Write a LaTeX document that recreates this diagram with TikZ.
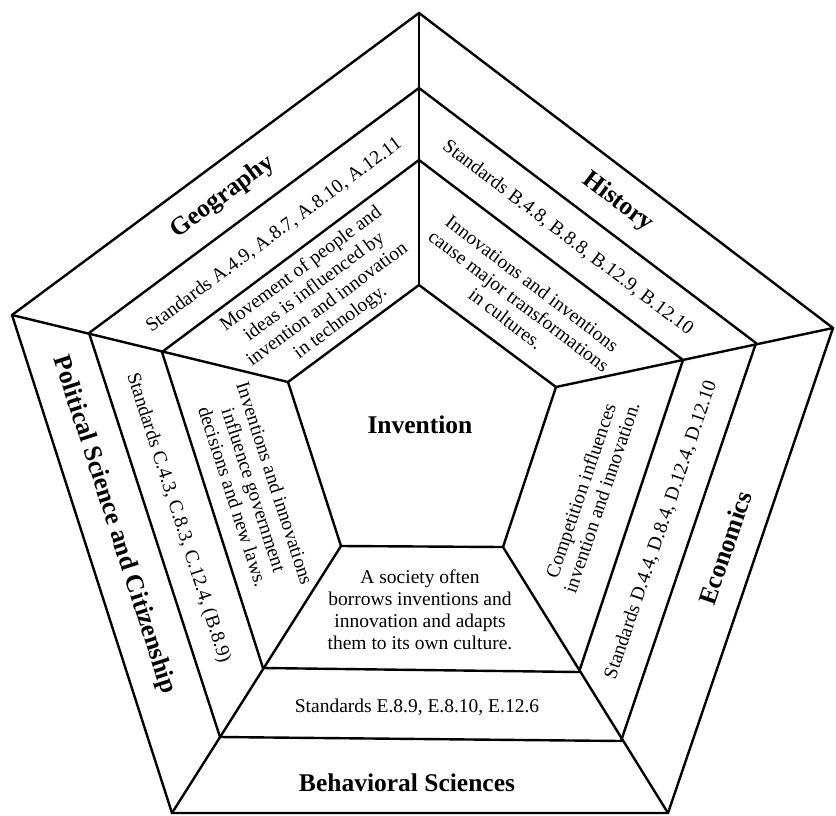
\documentclass[tikz,border=0pt]{standalone}
\usepackage{fontspec}
\setmainfont{Liberation Serif}
\usepackage{tikz}

\begin{document}
\begin{tikzpicture}[x=1pt, y=-1pt, line width=2.4pt,
  every node/.style={align=center, font=\fontsize{19.5}{22}\selectfont},
  subject/.style={font=\bfseries\fontsize{25.5}{28}\selectfont}]
\useasboundingbox (0,0) rectangle (836,815);

% outer ring
\coordinate (o1) at (419,13);
\coordinate (o2) at (833,328);
\coordinate (o3) at (668,813);
\coordinate (o4) at (172,813);
\coordinate (o5) at (12,315);
% standards ring
\coordinate (m1) at (419,88);
\coordinate (m2) at (756,343);
\coordinate (m3) at (621,741);
\coordinate (m4) at (220,737);
\coordinate (m5) at (89,333);
% statement ring
\coordinate (n1) at (419,160);
\coordinate (n2) at (683,360);
\coordinate (n3) at (579,672);
\coordinate (n4) at (263,668);
\coordinate (n5) at (162,352);
% centre
\coordinate (i1) at (419,285);
\coordinate (i2) at (556,387);
\coordinate (i3) at (503,547);
\coordinate (i4) at (341,546);
\coordinate (i5) at (288,382);

\foreach \r in {o,m,n,i}
  \draw (\r1) -- (\r2) -- (\r3) -- (\r4) -- (\r5) -- cycle;
\foreach \k in {1,...,5}
  \draw (o\k) -- (i\k);

\node[subject] (inv) at (420,425) {Invention};

\node[subject, rotate=36.6] (geo) at (223,197) {Geography};
\node[rotate=36.6] (geostd) at (274,235) {Standards A.4.9, A.8.7, A.8.10, A.12.11};
\node[rotate=36.6] (geotxt) at (321,296) {Movement of people and\\ideas is influenced by\\invention and innovation\\in technology.};

\node[subject, rotate=-37.2] (hist) at (618,202) {History};
\node[rotate=-37.2] (histstd) at (568,238) {Standards B.4.8, B.8.8, B.12.9, B.12.10};
\node[rotate=-37.2] (histtxt) at (519,301) {Innovations and inventions\\cause major transformations\\in cultures.};

\node[subject, rotate=71.2] (econ) at (725,548) {Economics};
\node[rotate=71.2] (econstd) at (661,530) {Standards D.4.4, D.8.4, D.12.4, D.12.10};
\node[rotate=71.2] (econtxt) at (591,494) {Competition influences\\invention and innovation.};

\node[subject] (beh) at (407,783) {Behavioral Sciences};
\node (behstd) at (417,707) {Standards E.8.9, E.8.10, E.12.6};
\node (behtxt) at (420,610) {A society often\\borrows inventions and\\innovation and adapts\\them to its own culture.};

\node[subject, rotate=-72.1] (pol) at (114,525) {Political Science and Citizenship};
\node[rotate=-72.1] (polstd) at (178,518) {Standards C.4.3, C.8.3, C.12.4, (B.8.9)};
\node[rotate=-72.1] (poltxt) at (254,490) {Inventions and innovations\\influence government\\decisions and new laws.};
\end{tikzpicture}
\end{document}
